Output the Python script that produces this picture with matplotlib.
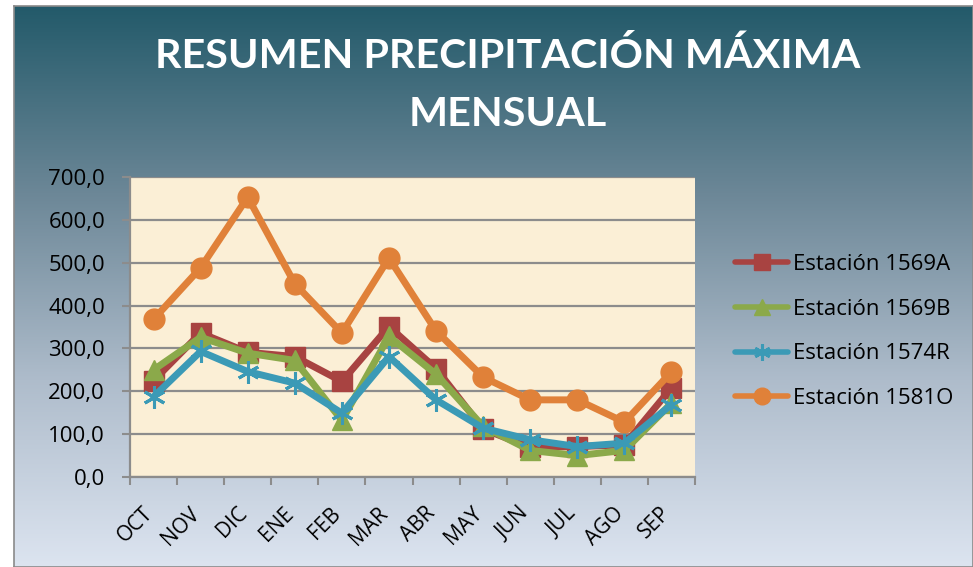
import numpy as np
import matplotlib
matplotlib.use("Agg")
import matplotlib.pyplot as plt
from matplotlib.colors import LinearSegmentedColormap
from matplotlib.transforms import ScaledTranslation

months = ["OCT", "NOV", "DIC", "ENE", "FEB", "MAR", "ABR", "MAY", "JUN", "JUL", "AGO", "SEP"]
est_1569A = [225, 336, 291, 281, 223, 351, 253, 112, 69, 71, 75, 208]
est_1569B = [250, 326, 289, 272, 132, 328, 240, 118, 62, 50, 62, 172]
est_1574R = [187, 293, 246, 219, 149, 281, 180, 114, 87, 71, 79, 169]
est_1581O = [368, 488, 653, 451, 336, 511, 341, 233, 180, 180, 128, 245]
series_names = ["Estación 1569A", "Estación 1569B", "Estación 1574R", "Estación 1581O"]
yticks = [0, 100, 200, 300, 400, 500, 600, 700]

W, H = 973, 567
fig = plt.figure(figsize=(W / 100, H / 100), dpi=100)
fig.patch.set_facecolor("white")

# gradient background of chart area
bg = fig.add_axes([14 / W, 0, (W - 14) / W, (H - 6) / H], zorder=0)
cmap = LinearSegmentedColormap.from_list("bg", ["#235A6A", "#6C8797", "#AEBCCB", "#DCE4F0"])
grad = np.linspace(0, 1, 256).reshape(-1, 1)
bg.imshow(grad, aspect="auto", cmap=cmap, extent=[0, 1, 0, 1], origin="upper")
bg.set_xlim(0, 1)
bg.set_ylim(0, 1)
for s in bg.spines.values():
    s.set_color("#8A8A8A")
    s.set_linewidth(1.2)
bg.set_xticks([])
bg.set_yticks([])

# plot area
x0, x1, y0, y1 = 130, 695, 177, 477
ax = fig.add_axes([x0 / W, 1 - y1 / H, (x1 - x0) / W, (y1 - y0) / H], zorder=1)
ax.set_facecolor("#FBEFD6")

x = np.arange(len(months))
styles = [
    (est_1569A, "#A84341", "s", 14),
    (est_1569B, "#8BA94A", "^", 15),
    (est_1574R, "#3B9AB6", (6, 2, 0), 16),
    (est_1581O, "#E08139", "o", 15),
]
for (vals, col, mk, ms), name in zip(styles, series_names):
    kw = dict(markerfacecolor=col, markeredgecolor=col)
    if mk == (6, 2, 0):
        kw["markeredgewidth"] = 2.2
    ax.plot(x, vals, color=col, lw=5, marker=mk, markersize=ms, label=name,
            solid_joinstyle="round", solid_capstyle="round", **kw)

ax.set_xlim(-0.5, len(months) - 0.5)
ax.set_ylim(0, 700)
ax.set_yticks(yticks)
ax.set_yticklabels([f"{v},0" for v in yticks], fontsize=16, family="Open Sans")
ax.yaxis.grid(True, color="#8C8C8C", lw=1.6)
ax.set_axisbelow(True)
ax.set_xticks(np.arange(-0.5, len(months), 1), minor=False)
ax.set_xticklabels([""] * (len(months) + 1))
ax.set_xticks(x, minor=True)
ax.set_xticklabels(months, minor=True, rotation=45, ha="right", va="center",
                   fontsize=15, family="Open Sans", rotation_mode="anchor")
ax.tick_params(axis="x", which="minor", length=0, pad=24)
ax.tick_params(axis="x", which="major", length=6, color="#8C8C8C", width=1.5, direction="out")
ax.tick_params(axis="y", length=6, color="#8C8C8C", width=1.5, direction="out", pad=12)
shift = ScaledTranslation(-0.04, 0, fig.dpi_scale_trans)
for lbl in ax.get_xticklabels(minor=True):
    lbl.set_transform(lbl.get_transform() + shift)
for side in ["top", "right"]:
    ax.spines[side].set_visible(False)
for side in ["left", "bottom"]:
    ax.spines[side].set_color("#8C8C8C")
    ax.spines[side].set_linewidth(1.6)

leg = fig.legend(loc="center left", bbox_to_anchor=(735 / W, 1 - 331.5 / H), frameon=False,
                 prop={"family": "Open Sans", "size": 16}, handlelength=2.4,
                 labelspacing=1.07, handletextpad=0.22, borderaxespad=0, borderpad=0)
for h in leg.legend_handles:
    h.set_markersize(12)
    h.set_linewidth(4)

fig.text(0.522, 1 - 56 / H, "RESUMEN PRECIPITACIÓN MÁXIMA", ha="center", va="center",
         color="white", fontsize=29.7, fontweight="bold", family="Lato")
fig.text(0.522, 1 - 115 / H, "MENSUAL", ha="center", va="center",
         color="white", fontsize=29.7, fontweight="bold", family="Lato")

fig.savefig("out.png", dpi=100)
